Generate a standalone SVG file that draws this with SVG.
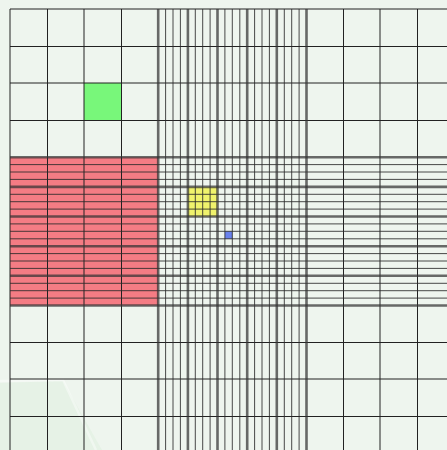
<svg xmlns="http://www.w3.org/2000/svg" width="447" height="450" viewBox="0 0 447 450">
  <style>
    .thin { stroke: #222; stroke-width: 1; fill: none; }
    .fine { stroke: #2a2a2a; stroke-width: 1; stroke-opacity: 0.85; fill: none; }
    .thick { stroke: #333; stroke-width: 2.6; stroke-opacity: 0.72; fill: none; }
  </style>
  <rect id="background" x="0" y="0" width="447" height="450" fill="#eef5ee"/>
  <g id="glare">
    <polygon points="0,383 63,381 102,450 0,450" fill="#dcefdc" fill-opacity="0.45"/>
    <polyline points="0,381 63,380 96,450" fill="none" stroke="#ffffff" stroke-width="2.5" stroke-opacity="0.4"/>
  </g>
  <g id="regions">
    <rect id="red-region" x="10" y="157.2" width="148.2" height="148.3" fill="#f47c84"/>
    <rect id="green-square" x="84" y="83" width="37.5" height="37.5" fill="#78f77a"/>
    <rect id="yellow-square" x="187.9" y="186.9" width="29.6" height="29.6" fill="#f0f36c"/>
    <rect id="blue-square" x="224.9" y="231.3" width="7.4" height="7.5" fill="#6a82ec"/>
  </g>
  <g id="grid-outer">
    <path class="thin" d="M10 9V450M47.5 9V450M84 9V450M121.5 9V450M343.5 9V450M380 9V450M417.5 9V450"/>
    <path class="thin" d="M10 9H447M10 46.5H447M10 83H447M10 120.5H447M10 342.5H447M10 379H447M10 416.5H447"/>
  </g>
  <g id="grid-center-fine">
    <path class="fine" d="M165.6 9V450M173 9V450M180.4 9V450M195.3 9V450M202.7 9V450M210.1 9V450M224.9 9V450M232.3 9V450M239.8 9V450M254.6 9V450M262 9V450M269.4 9V450M284.3 9V450M291.7 9V450M299.1 9V450"/>
    <path class="fine" d="M10 164.6H447M10 172H447M10 179.4H447M10 194.3H447M10 201.7H447M10 209.1H447M10 223.9H447M10 231.3H447M10 238.8H447M10 253.6H447M10 261H447M10 268.4H447M10 283.3H447M10 290.7H447M10 298.1H447"/>
  </g>
  <g id="grid-center-thick">
    <path class="thick" d="M158.2 9V450M187.9 9V450M217.5 9V450M247.2 9V450M276.8 9V450M306.5 9V450"/>
    <path class="thick" d="M10 157.2H447M10 186.9H447M10 216.5H447M10 246.2H447M10 275.8H447M10 305.5H447"/>
  </g>
</svg>
